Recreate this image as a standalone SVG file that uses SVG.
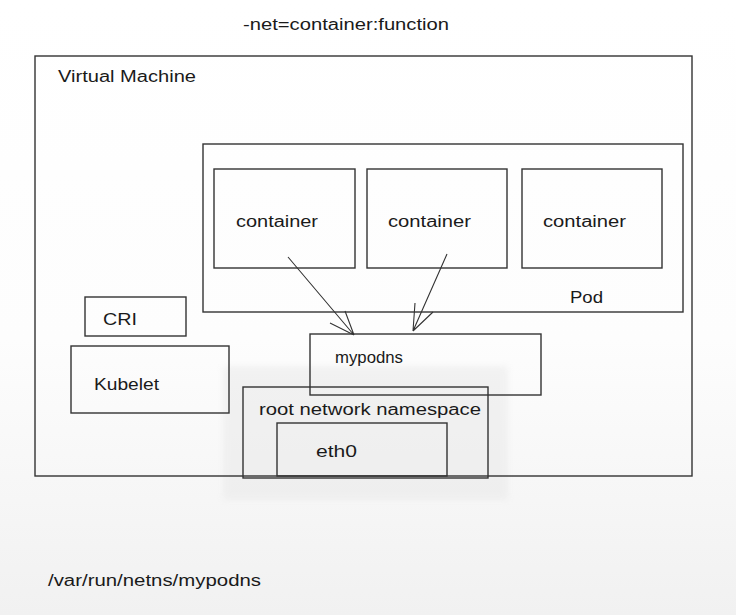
<svg xmlns="http://www.w3.org/2000/svg" width="736" height="615" viewBox="0 0 736 615">
<style>
.b{fill:none;stroke:#333;stroke-width:1.4}
.t{font-family:"Liberation Sans",Arial,sans-serif;font-size:16px;fill:#1a1a1a}
.a{fill:none;stroke:#333;stroke-width:1.1}
</style>
<defs>
<linearGradient id="bg" x1="0" y1="0" x2="0" y2="1">
<stop offset="0" stop-color="#ffffff"/>
<stop offset="0.55" stop-color="#fdfdfd"/>
<stop offset="1" stop-color="#f1f1f1"/>
</linearGradient>
<filter id="blur" x="-10%" y="-10%" width="120%" height="120%"><feGaussianBlur stdDeviation="3"/></filter>
</defs>
<rect x="0" y="0" width="736" height="615" fill="url(#bg)"/>
<rect x="223" y="366" width="285" height="134" fill="#e6e6e6" opacity="0.45" filter="url(#blur)"/>
<text class="t" x="243" y="30" textLength="206" lengthAdjust="spacingAndGlyphs">-net=container:function</text>
<g id="vm"><rect class="b" x="35" y="56" width="657" height="420"/><text class="t" x="58" y="82" textLength="138" lengthAdjust="spacingAndGlyphs">Virtual Machine</text></g>
<g id="pod"><rect class="b" x="203" y="144" width="480" height="168"/><text class="t" x="570" y="303" textLength="33" lengthAdjust="spacingAndGlyphs">Pod</text></g>
<g id="container1"><rect class="b" x="214" y="169" width="141" height="99"/><text class="t" x="236" y="227" textLength="82" lengthAdjust="spacingAndGlyphs">container</text></g>
<g id="container2"><rect class="b" x="367" y="169" width="140" height="99"/><text class="t" x="388" y="227" textLength="83" lengthAdjust="spacingAndGlyphs">container</text></g>
<g id="container3"><rect class="b" x="522" y="169" width="140" height="99"/><text class="t" x="543" y="227" textLength="83" lengthAdjust="spacingAndGlyphs">container</text></g>
<g id="cri"><rect class="b" x="85" y="297" width="101" height="39"/><text class="t" x="103" y="325" textLength="34" lengthAdjust="spacingAndGlyphs">CRI</text></g>
<g id="kubelet"><rect class="b" x="71" y="346" width="158" height="67"/><text class="t" x="94" y="390" textLength="65" lengthAdjust="spacingAndGlyphs">Kubelet</text></g>
<g id="mypodns"><rect class="b" x="310" y="334" width="231" height="61"/><text class="t" x="335" y="363" style="font-size:17px" textLength="68" lengthAdjust="spacingAndGlyphs">mypodns</text></g>
<g id="rootns"><rect class="b" x="243" y="387" width="245" height="91"/><text class="t" x="259" y="415" textLength="222" lengthAdjust="spacingAndGlyphs">root network namespace</text></g>
<g id="eth0"><rect class="b" x="277" y="423" width="170" height="53"/><text class="t" x="316" y="457" textLength="41" lengthAdjust="spacingAndGlyphs">eth0</text></g>
<g id="connectors">
<path class="a" d="M288 257 L354 335 M354 335 L345 311 M354 335 L330 323"/>
<path class="a" d="M447 254 L413 331 M413 331 L415 303 M413 331 L433 312"/>
</g>
<text class="t" x="48" y="586" textLength="213" lengthAdjust="spacingAndGlyphs">/var/run/netns/mypodns</text>
</svg>
